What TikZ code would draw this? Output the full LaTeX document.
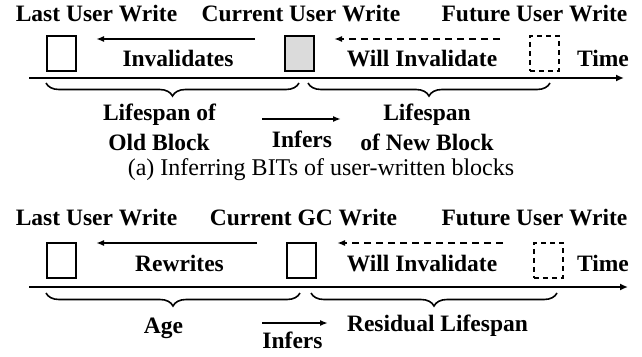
\documentclass[tikz,border=0pt]{standalone}
\usepackage{fontspec}
\setmainfont{Liberation Serif}
\usetikzlibrary{arrows.meta,decorations.pathreplacing}
\tikzset{
  lbl/.style={inner sep=0pt, anchor=base, font=\fontsize{23.5}{27}\selectfont\bfseries},
  captext/.style={inner sep=0pt, anchor=base, font=\fontsize{24}{28}\selectfont},
  blk/.style={draw, line width=1.6pt, minimum width=29pt, minimum height=35pt, inner sep=0pt, anchor=north west},
  fblk/.style={blk, dash pattern=on 5pt off 4pt},
  arr/.style={line width=2pt, -{Latex[length=8pt,width=6pt]}},
  darr/.style={arr, dash pattern=on 7pt off 5pt},
  axis/.style={line width=2.6pt, -{Latex[length=8pt,width=7pt]}},
  brc/.style={line width=1.6pt, decorate, decoration={brace, mirror, amplitude=13pt}},
}
\begin{document}
\begin{tikzpicture}[x=1pt,y=-1pt]
\useasboundingbox (0,0) rectangle (642,356);
% ---------- panel (a) ----------
\node[lbl] (t1) at (96.5,21) {Last User Write};
\node[lbl] (t2) at (301,21) {Current User Write};
\node[lbl] (t3) at (534.5,21) {Future User Write};
\node[blk] (b1) at (46,35) {};
\node[blk, fill=gray!28] (b2) at (284,35) {};
\node[fblk] (b3) at (529,35) {};
\coordinate (i1s) at (255,39); \coordinate (i1e) at (96,39);
\draw[arr] (i1s) -- (i1e);
\coordinate (w1s) at (500,39); \coordinate (w1e) at (334,39);
\draw[darr] (w1s) -- (w1e);
\node[lbl] (inv) at (178,66) {Invalidates};
\node[lbl] (wi1) at (422,66) {Will Invalidate};
\node[lbl] (tm1) at (603,66) {Time};
\coordinate (a1s) at (29,78); \coordinate (a1e) at (624,78);
\draw[axis] (a1s) -- (a1e);
\coordinate (br1a) at (46,83); \coordinate (br1b) at (299,83);
\draw[brc] (br1a) -- (br1b);
\coordinate (br2a) at (308,83); \coordinate (br2b) at (550,83);
\draw[brc] (br2a) -- (br2b);
\node[lbl] (ls1) at (159.5,120) {Lifespan of};
\node[lbl] (ob) at (159,150) {Old Block};
\node[lbl] (ls2) at (427,120) {Lifespan};
\node[lbl] (nb) at (427,150) {of New Block};
\coordinate (f1s) at (262,119); \coordinate (f1e) at (341,119);
\draw[arr] (f1s) -- (f1e);
\node[lbl] (inf1) at (302,147) {Infers};
\node[captext] (capa) at (321,175) {(a) Inferring BITs of user-written blocks};
% ---------- panel (b) ----------
\node[lbl] (u1) at (96.5,225) {Last User Write};
\node[lbl] (u2) at (303.5,225) {Current GC Write};
\node[lbl] (u3) at (534.5,225) {Future User Write};
\node[blk] (c1) at (46,242) {};
\node[blk] (c2) at (286,242) {};
\node[fblk] (c3) at (533,242) {};
\coordinate (r2s) at (257,243); \coordinate (r2e) at (96,243);
\draw[arr] (r2s) -- (r2e);
\coordinate (w2s) at (503,243); \coordinate (w2e) at (337,243);
\draw[darr] (w2s) -- (w2e);
\node[lbl] (rw) at (179.5,271) {Rewrites};
\node[lbl] (wi2) at (422,271) {Will Invalidate};
\node[lbl] (tm2) at (603,271) {Time};
\coordinate (a2s) at (29,287); \coordinate (a2e) at (628,287);
\draw[axis] (a2s) -- (a2e);
\coordinate (br3a) at (46,293); \coordinate (br3b) at (300,293);
\draw[brc] (br3a) -- (br3b);
\coordinate (br4a) at (311,293); \coordinate (br4b) at (557,293);
\draw[brc] (br4a) -- (br4b);
\node[lbl] (age) at (163.5,333) {Age};
\node[lbl] (rl) at (437.5,331) {Residual Lifespan};
\coordinate (f2s) at (262,323); \coordinate (f2e) at (328,323);
\draw[arr] (f2s) -- (f2e);
\node[lbl] (inf2) at (292.5,348) {Infers};
\end{tikzpicture}
\end{document}
